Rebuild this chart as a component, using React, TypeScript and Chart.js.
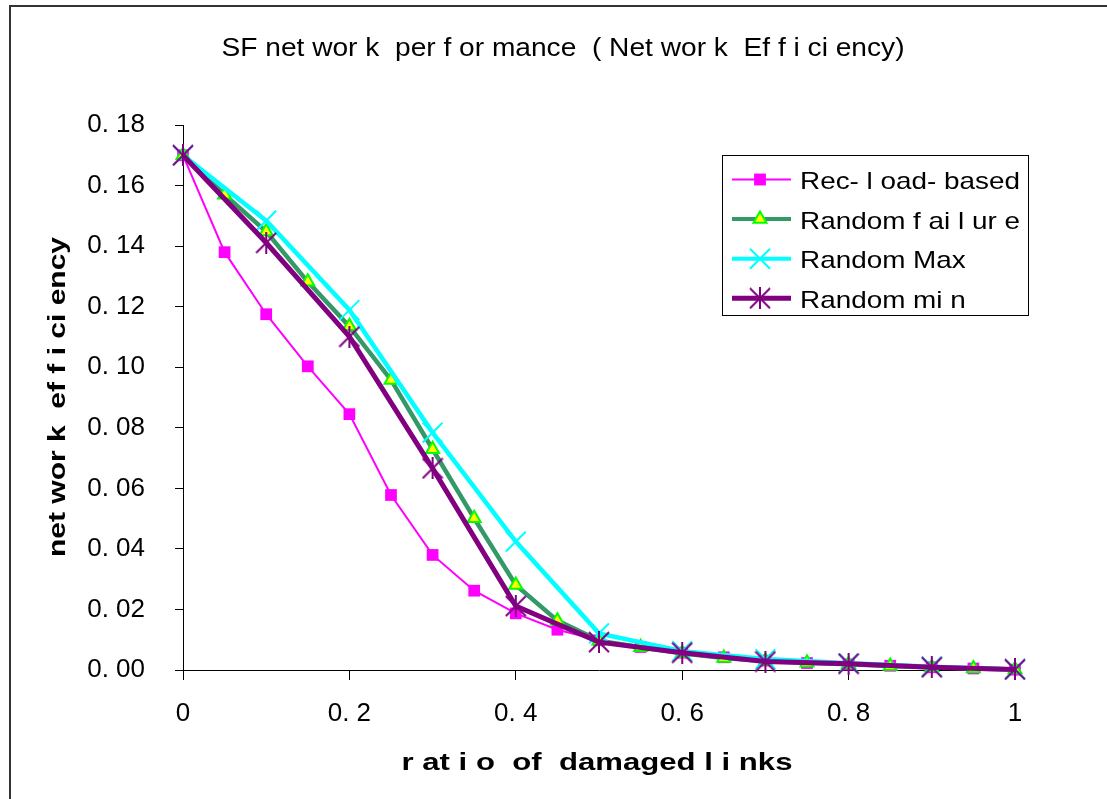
import React, { useEffect, useRef } from "react";
import { Chart, registerables } from "chart.js";

Chart.register(...registerables);

// ---------- data ----------
const X_FINE = [0, 0.05, 0.1, 0.15, 0.2, 0.25, 0.3, 0.35, 0.4, 0.45, 0.5, 0.55, 0.6, 0.65, 0.7, 0.75, 0.8, 0.85, 0.9, 0.95, 1];
const X_COARSE = [0, 0.1, 0.2, 0.3, 0.4, 0.5, 0.6, 0.7, 0.8, 0.9, 1];

const REC_LOAD = [0.170, 0.138, 0.1175, 0.1003, 0.0845, 0.0578, 0.038, 0.0262, 0.0187, 0.0133, 0.0098, 0.0076, 0.0057, 0.0042, 0.0031, 0.0023, 0.0018, 0.0014, 0.0009, 0.0005, 0.0001];
const RAND_FAIL = [0.170, 0.157, 0.1448, 0.1282, 0.1135, 0.0958, 0.0729, 0.0501, 0.0281, 0.0163, 0.0097, 0.0075, 0.0055, 0.0040, 0.0030, 0.0024, 0.0019, 0.0013, 0.0009, 0.0005, 0.0002];
const RAND_MAX = [0.170, 0.1484, 0.1189, 0.0784, 0.0424, 0.0121, 0.0062, 0.0036, 0.0022, 0.0011, 0.0002];
const RAND_MIN = [0.170, 0.1411, 0.1101, 0.0666, 0.0211, 0.0092, 0.0057, 0.0028, 0.0021, 0.0009, 0.0002];

const SERIES_NAMES = ["Rec- l oad- based", "Random f ai l ur e", "Random Max", "Random mi n"];

const Y_MIN = 0;
const Y_MAX = 0.18;
const Y_STEP = 0.02;
const X_MIN = 0;
const X_MAX = 1;
const X_STEP = 0.2;

const TITLE = "SF net wor k  per f or mance  ( Net wor k  Ef f i ci ency)";
const X_TITLE = "r at i o  of  damaged l i nks";
const Y_TITLE = "net wor k  ef f i ci ency";

// ---------- styles ----------
const FONT = '"Liberation Sans", Arial, sans-serif';
const C_MAGENTA = "#FF00FF";
const C_GREEN = "#339966";
const C_CYAN = "#00FFFF";
const C_PURPLE = "#800080";

function makeStar(color: string, size: number, lw: number) {
  const c = document.createElement("canvas");
  c.width = size;
  c.height = size;
  const g = c.getContext("2d")!;
  g.strokeStyle = color;
  g.lineWidth = lw;
  const m = size / 2;
  const r = size / 2 - 1;
  g.beginPath();
  g.moveTo(m - r, m - r);
  g.lineTo(m + r, m + r);
  g.moveTo(m + r, m - r);
  g.lineTo(m - r, m + r);
  g.moveTo(m, 0);
  g.lineTo(m, size);
  g.stroke();
  return c;
}

function drawScaledText(ctx: CanvasRenderingContext2D, text: string, font: string, cx: number, baseY: number, targetW: number) {
  ctx.save();
  ctx.font = font;
  const w = ctx.measureText(text).width;
  const s = targetW / w;
  ctx.translate(cx, baseY);
  ctx.scale(s, 1);
  ctx.textAlign = "center";
  ctx.textBaseline = "alphabetic";
  ctx.fillStyle = "#000";
  ctx.fillText(text, 0, 0);
  ctx.restore();
}

export default function App() {
  const ref = useRef<HTMLCanvasElement | null>(null);

  useEffect(() => {
    if (!ref.current) return;
    const star = makeStar(C_PURPLE, 22, 2);

    const overlay = {
      id: "overlay",
      afterDraw(chart: any) {
        const ctx: CanvasRenderingContext2D = chart.ctx;
        // title
        drawScaledText(ctx, TITLE, `25px ${FONT}`, 563, 56, 683);
        // x axis title
        drawScaledText(ctx, X_TITLE, `bold 24px ${FONT}`, 597, 770, 391);
        // y axis title
        ctx.save();
        ctx.translate(65, 397);
        ctx.rotate(-Math.PI / 2);
        drawScaledText(ctx, Y_TITLE, `bold 24px ${FONT}`, 0, 0, 320);
        ctx.restore();

        // legend
        const bx = 722.5, by = 155.5, bw = 306, bh = 160;
        ctx.save();
        ctx.fillStyle = "#fff";
        ctx.fillRect(bx, by, bw, bh);
        ctx.strokeStyle = "#000";
        ctx.lineWidth = 1;
        ctx.strokeRect(bx, by, bw, bh);
        ctx.restore();
        const lineColors = [C_MAGENTA, C_GREEN, C_CYAN, C_PURPLE];
        const lineWidths = [2, 4, 4, 5];
        for (let i = 0; i < 4; i++) {
          const cy = 179.5 + i * 39.6;
          ctx.save();
          ctx.strokeStyle = lineColors[i];
          ctx.lineWidth = lineWidths[i];
          ctx.beginPath();
          ctx.moveTo(732, cy);
          ctx.lineTo(791, cy);
          ctx.stroke();
          const mx = 760;
          if (i === 0) {
            ctx.fillStyle = C_MAGENTA;
            ctx.fillRect(mx - 5.9, cy - 5.9, 11.8, 11.8);
          } else if (i === 1) {
            const r = 7.5;
            ctx.beginPath();
            ctx.moveTo(mx, cy - r);
            ctx.lineTo(mx + r * Math.sin((2 * Math.PI) / 3), cy - r * Math.cos((2 * Math.PI) / 3));
            ctx.lineTo(mx + r * Math.sin((4 * Math.PI) / 3), cy - r * Math.cos((4 * Math.PI) / 3));
            ctx.closePath();
            ctx.fillStyle = "#FFFF00";
            ctx.fill();
            ctx.strokeStyle = "#00FF00";
            ctx.lineWidth = 2;
            ctx.stroke();
          } else if (i === 2) {
            const h = 10;
            ctx.strokeStyle = C_CYAN;
            ctx.lineWidth = 2;
            ctx.beginPath();
            ctx.moveTo(mx - h, cy - h);
            ctx.lineTo(mx + h, cy + h);
            ctx.moveTo(mx + h, cy - h);
            ctx.lineTo(mx - h, cy + h);
            ctx.stroke();
          } else {
            ctx.drawImage(star, mx - 11, cy - 11);
          }
          ctx.restore();
          ctx.save();
          ctx.font = `24px ${FONT}`;
          const w = ctx.measureText(SERIES_NAMES[0]).width;
          const s = 220 / w;
          ctx.translate(800, cy + 9.5);
          ctx.scale(s, 1);
          ctx.fillStyle = "#000";
          ctx.textAlign = "left";
          ctx.textBaseline = "alphabetic";
          ctx.fillText(SERIES_NAMES[i], 0, 0);
          ctx.restore();
        }
      },
    };

    const fine = (vals: number[]) => X_FINE.map((x, i) => ({ x, y: vals[i] }));
    const coarse = (vals: number[]) => X_COARSE.map((x, i) => ({ x, y: vals[i] }));

    const chart = new Chart(ref.current, {
      type: "line",
      data: {
        datasets: [
          {
            label: SERIES_NAMES[0],
            data: fine(REC_LOAD),
            borderColor: C_MAGENTA,
            backgroundColor: C_MAGENTA,
            borderWidth: 2,
            pointStyle: "rect",
            pointRadius: 8.3,
            pointBorderWidth: 0,
            pointBackgroundColor: C_MAGENTA,
            pointBorderColor: C_MAGENTA,
            tension: 0,
            clip: false as any,
            order: 3,
          },
          {
            label: SERIES_NAMES[1],
            data: fine(RAND_FAIL),
            borderColor: C_GREEN,
            backgroundColor: "#FFFF00",
            borderWidth: 4.5,
            pointStyle: "triangle",
            pointRadius: 7.5,
            pointBorderWidth: 2,
            pointBackgroundColor: "#FFFF00",
            pointBorderColor: "#00FF00",
            tension: 0,
            clip: false as any,
            order: 2,
          },
          {
            label: SERIES_NAMES[2],
            data: coarse(RAND_MAX),
            borderColor: C_CYAN,
            backgroundColor: C_CYAN,
            borderWidth: 4.5,
            pointStyle: "crossRot",
            pointRadius: 14,
            pointBorderWidth: 2,
            pointBorderColor: C_CYAN,
            tension: 0,
            clip: false as any,
            order: 1,
          },
          {
            label: SERIES_NAMES[3],
            data: coarse(RAND_MIN),
            borderColor: C_PURPLE,
            backgroundColor: C_PURPLE,
            borderWidth: 5,
            pointStyle: star as any,
            pointRadius: 11,
            tension: 0,
            clip: false as any,
            order: 0,
          },
        ],
      },
      options: {
        responsive: false,
        animation: false,
        events: [],
        layout: { padding: { top: 125, right: 92, bottom: 0, left: 0 } },
        plugins: {
          legend: { display: false },
          title: { display: false },
          tooltip: { enabled: false },
        },
        scales: {
          x: {
            type: "linear",
            min: X_MIN,
            max: X_MAX,
            afterFit: (s: any) => {
              s.height = 129;
            },
            border: { display: true, color: "#000", width: 1 },
            grid: { drawOnChartArea: false, drawTicks: true, tickLength: 10, color: "#000" },
            ticks: {
              stepSize: X_STEP,
              color: "#000",
              padding: 18,
              font: { family: FONT, size: 26 },
              maxRotation: 0,
              callback: (v: any) => {
                const n = Number(v);
                if (Math.abs(n) < 1e-9) return "0";
                if (Math.abs(n - 1) < 1e-9) return "1";
                return n.toFixed(1).replace(".", ". ");
              },
            },
          },
          y: {
            type: "linear",
            min: Y_MIN,
            max: Y_MAX,
            afterFit: (s: any) => {
              s.width = 183;
            },
            border: { display: true, color: "#000", width: 1 },
            grid: { drawOnChartArea: false, drawTicks: true, tickLength: 8, color: "#000" },
            ticks: {
              stepSize: Y_STEP,
              color: "#000",
              padding: 30,
              font: { family: FONT, size: 26 },
              callback: (v: any) => Number(v).toFixed(2).replace(".", ". "),
            },
          },
        },
      },
      plugins: [overlay],
    });
    return () => chart.destroy();
  }, []);

  return (
    <div style={{ position: "fixed", left: 0, top: 0, width: 1107, height: 799, background: "#fff", overflow: "hidden" }}>
      <div
        style={{
          position: "absolute",
          left: 9,
          top: 5,
          width: 1200,
          height: 900,
          border: "2px solid #333",
          boxSizing: "border-box",
        }}
      />
      <canvas ref={ref} width={1107} height={799} style={{ position: "absolute", left: 0, top: 0, width: 1107, height: 799 }} />
    </div>
  );
}
